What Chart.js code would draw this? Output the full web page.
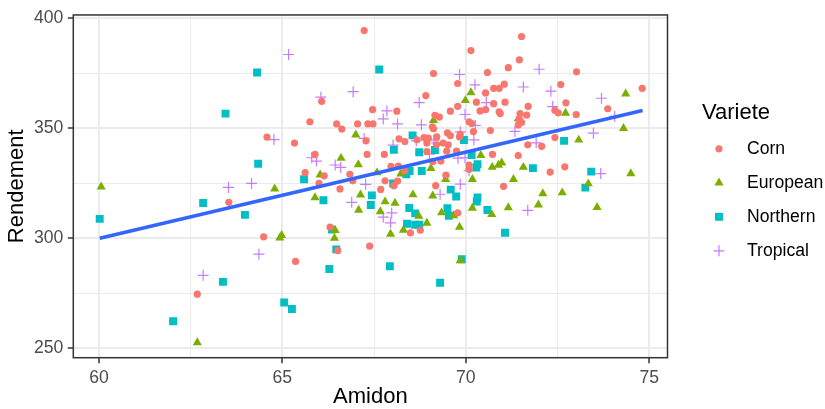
<!DOCTYPE html>
<html lang="en">
<head>
  <meta charset="UTF-8">
  <title>Rendement vs Amidon</title>
  <script src="https://cdn.jsdelivr.net/npm/chart.js"></script>
  <style>
    html, body { margin: 0; padding: 0; background: #fff; }
    #wrap { width: 825px; height: 409px; }
  </style>
</head>
<body>
  <div id="wrap"><canvas id="chart" width="825" height="409"></canvas></div>

  <script>
    // data
    const varietes = ['Corn', 'European', 'Northern', 'Tropical'];

    const cornAmidon = [67.23, 71.52, 70.14, 71.46, 71.16, 73.02, 70.59, 69.12, 69.78, 70.76, 70.91, 71.05, 72.59, 74.81,
      70.54, 68.91, 66.07, 70.29, 70.76, 71.07, 72.73, 71.70, 69.78, 73.87, 67.46, 68.12, 69.58, 70.39, 70.54, 70.91,
      70.94, 71.48, 71.66, 72.43, 72.52, 73.01, 69.16, 69.28, 71.46, 70.09, 70.16, 71.52, 71.43, 65.75, 66.48, 66.62,
      67.05, 67.33, 67.47, 69.09, 69.12, 70.67, 70.21, 69.50, 69.85, 69.83, 69.21, 69.58, 72.43, 64.58, 65.33, 67.28,
      68.18, 68.34, 68.67, 68.86, 68.98, 68.94, 69.20, 69.38, 69.52, 71.69, 72.07, 69.48, 69.75, 70.73, 71.43, 67.78,
      67.31, 65.89, 68.94, 69.32, 69.10, 70.09, 70.09, 72.70, 68.16, 67.96, 72.30, 68.34, 69.46, 66.84, 66.14, 65.62,
      66.00, 66.92, 67.80, 68.14, 68.04, 66.57, 67.68, 69.18, 71.03, 63.54, 69.78, 66.30, 68.49, 68.76, 64.49, 66.51,
      67.38, 65.36, 62.68];
    const cornRendement = [394.5, 391.8, 385.4, 381.2, 377.6, 375.7, 375.4, 374.9, 370.4, 368.2, 368.2, 370.1, 369.9, 368.2,
      366.1, 364.9, 362.3, 361.9, 361.2, 361.9, 361.6, 360.0, 360.0, 358.9, 358.5, 357.8, 357.8, 357.9, 358.5, 357.5,
      356.7, 356.7, 356.0, 358.2, 357.1, 356.3, 355.9, 355.1, 354.2, 353.0, 352.2, 352.7, 351.5, 353.0, 352.0, 349.7,
      352.0, 352.0, 352.0, 350.7, 349.8, 349.0, 348.5, 347.9, 347.3, 346.1, 346.1, 346.7, 345.8, 346.0, 343.3, 344.3,
      345.2, 344.0, 344.8, 345.8, 345.5, 343.3, 342.5, 343.3, 342.5, 342.5, 341.8, 339.6, 339.6, 338.1, 337.6, 338.1,
      338.1, 338.1, 339.4, 335.1, 334.8, 333.3, 331.4, 332.5, 332.8, 332.7, 330.1, 330.7, 328.7, 329.1, 328.4, 329.8,
      324.9, 326.1, 326.1, 326.0, 323.9, 322.4, 322.2, 323.9, 323.6, 316.3, 311.5, 305.1, 302.4, 303.6, 300.6, 294.3,
      296.4, 289.4, 274.5];

    const europeanAmidon = [60.06, 62.68, 64.79, 64.98, 64.93, 65.89, 66.03, 66.44, 66.42, 66.60, 67.00, 67.07, 67.13, 67.08,
      67.58, 67.80, 68.07, 67.67, 67.95, 68.23, 68.56, 68.72, 68.30, 68.94, 69.05, 69.10, 69.34, 69.67, 69.45, 69.83,
      69.85, 69.99, 70.14, 69.12, 70.18, 70.41, 70.18, 70.71, 70.72, 70.89, 70.98, 71.30, 71.16, 71.43, 71.57, 71.98,
      72.10, 72.63, 72.72, 73.08, 73.34, 73.58, 74.30, 74.36, 74.50];
    const europeanRendement = [323.4, 252.5, 322.5, 301.3, 300.1, 318.5, 328.8, 303.6, 300.0, 336.4, 347.0, 333.5, 319.7, 312.8,
      329.8, 316.6, 316.0, 312.1, 301.9, 329.3, 319.8, 310.0, 303.7, 306.9, 331.8, 319.3, 311.6, 310.3, 326.8, 305.1,
      289.8, 362.7, 366.3, 353.6, 326.8, 337.7, 313.7, 310.8, 332.3, 333.3, 334.3, 326.8, 313.9, 354.3, 332.3, 315.2,
      320.3, 320.7, 356.9, 344.7, 324.8, 314.0, 350.0, 365.7, 329.4];

    const northernAmidon = [60.02, 62.02, 62.84, 63.38, 63.45, 63.98, 64.31, 64.34, 65.05, 65.26, 65.59, 66.12, 66.35, 66.47,
      66.28, 67.64, 67.44, 67.41, 67.93, 68.02, 68.04, 68.55, 68.73, 68.47, 68.38, 68.80, 68.46, 68.62, 68.40, 68.62,
      68.73, 69.16, 69.30, 69.50, 69.54, 69.59, 69.74, 69.89, 69.95, 70.16, 70.32, 70.29, 70.32, 70.30, 70.59, 71.07,
      71.83, 72.68, 73.26, 73.42];
    const northernRendement = [308.8, 262.2, 316.0, 280.1, 356.7, 310.6, 375.4, 333.9, 270.7, 267.8, 326.8, 317.3, 303.9, 294.9,
      286.0, 376.8, 319.5, 315.1, 287.2, 324.9, 340.2, 346.8, 339.1, 330.6, 329.1, 330.6, 313.7, 311.3, 306.6, 306.1,
      306.1, 340.1, 279.7, 313.6, 310.2, 322.1, 319.0, 290.4, 344.7, 337.8, 333.7, 332.2, 318.5, 316.7, 312.8, 302.5,
      331.9, 344.3, 323.0, 330.3];

    const tropicalAmidon = [62.84, 63.53, 64.16, 64.36, 64.77, 65.17, 66.05, 65.80, 65.93, 66.44, 66.59, 66.89, 66.93, 67.23,
      67.27, 67.75, 67.85, 68.14, 68.02, 67.98, 67.75, 67.95, 68.73, 68.79, 68.65, 69.01, 69.13, 69.21, 69.30, 69.83,
      69.85, 69.79, 69.98, 69.98, 69.85, 70.09, 70.25, 70.26, 70.22, 70.56, 71.34, 71.57, 71.69, 71.92, 72.00, 72.32,
      72.37, 73.48, 73.68, 73.70, 74.06];
    const tropicalRendement = [283.1, 323.1, 324.9, 292.7, 344.9, 383.6, 364.2, 336.6, 335.1, 333.3, 332.2, 316.3, 366.7, 345.4,
      324.5, 354.3, 357.9, 352.0, 342.4, 311.5, 309.6, 307.0, 361.7, 351.6, 344.3, 338.3, 344.6, 343.4, 320.0, 374.5,
      348.4, 336.4, 356.3, 336.6, 324.6, 330.7, 369.8, 351.3, 344.7, 361.7, 348.6, 368.8, 312.7, 343.4, 376.9, 366.9,
      359.9, 347.8, 329.4, 363.7, 355.5];

    // fitted line (lm) end points
    const fitAmidon = [60.02, 74.82];
    const fitRendement = [300.0, 358.1];

    const xTicks = [60, 62.5, 65, 67.5, 70, 72.5, 75];
    const yTicks = [250, 275, 300, 325, 350, 375, 400];

    // styling
    const couleurs = ['#F8766D', '#7CAE00', '#00BFC4', '#C77CFF'];
    const formes = ['circle', 'triangle', 'rect', 'cross'];
    const tailles = [3.6, 5.3, 5.6, 5.5];
    const traits = [0, 0, 0, 1.2];
    const FONT = '"Liberation Sans", Arial, sans-serif';

    const amidon = [cornAmidon, europeanAmidon, northernAmidon, tropicalAmidon];
    const rendement = [cornRendement, europeanRendement, northernRendement, tropicalRendement];

    const datasets = [{
      label: 'lm',
      data: fitAmidon.map((x, i) => ({ x, y: fitRendement[i] })),
      showLine: true,
      borderColor: '#3366FF',
      borderWidth: 3.5,
      pointRadius: 0,
      fill: false
    }];
    varietes.forEach((name, k) => {
      datasets.push({
        label: name,
        data: amidon[k].map((x, i) => ({ x, y: rendement[k][i] })),
        pointStyle: formes[k],
        pointRadius: tailles[k],
        pointBackgroundColor: couleurs[k],
        pointBorderColor: couleurs[k],
        pointBorderWidth: traits[k]
      });
    });

    const isMajor = (v, step) => Math.abs(v / step - Math.round(v / step)) < 1e-6;

    const panelBorder = {
      id: 'panelBorder',
      afterDraw(chart) {
        const { ctx, chartArea: a } = chart;
        ctx.save();
        ctx.strokeStyle = '#333333';
        ctx.lineWidth = 1.5;
        ctx.strokeRect(a.left, a.top, a.right - a.left, a.bottom - a.top);
        ctx.restore();
      }
    };

    const sideLegend = {
      id: 'sideLegend',
      afterDraw(chart) {
        const ctx = chart.ctx;
        ctx.save();
        ctx.fillStyle = '#000';
        ctx.font = '22px ' + FONT;
        ctx.textBaseline = 'alphabetic';
        ctx.textAlign = 'left';
        ctx.fillText('Variete', 702, 119);
        varietes.forEach((name, i) => {
          const y = 148.8 + i * 34;
          ctx.fillStyle = couleurs[i];
          ctx.strokeStyle = couleurs[i];
          ctx.lineWidth = traits[i];
          Chart.helpers.drawPoint(ctx, { pointStyle: formes[i], radius: tailles[i], borderWidth: traits[i], rotation: 0 }, 719, y);
          ctx.fillStyle = '#000';
          ctx.font = '17.6px ' + FONT;
          ctx.textBaseline = 'middle';
          ctx.fillText(name, 747, y);
        });
        ctx.restore();
      }
    };

    new Chart(document.getElementById('chart'), {
      type: 'scatter',
      data: { datasets },
      plugins: [panelBorder, sideLegend],
      options: {
        responsive: false,
        animation: false,
        layout: { padding: { top: 9.2, right: 157.5, left: 0, bottom: 0 } },
        plugins: { legend: { display: false }, tooltip: { enabled: false } },
        scales: {
          x: {
            type: 'linear',
            min: 59.30,
            max: 75.50,
            afterBuildTicks: s => { s.ticks = xTicks.map(v => ({ value: v })); },
            afterFit: s => { s.height = 51.3; },
            border: { display: false },
            grid: {
              color: '#EBEBEB',
              lineWidth: c => (c.tick && isMajor(c.tick.value, 5)) ? 2 : 1,
              tickColor: c => (c.tick && isMajor(c.tick.value, 5)) ? '#333333' : 'rgba(0,0,0,0)',
              tickLength: 5.5,
              tickWidth: 1.5
            },
            ticks: {
              autoSkip: false,
              maxRotation: 0,
              padding: 4.4,
              color: '#4D4D4D',
              font: { family: FONT, size: 17.6 },
              callback: v => isMajor(v, 5) ? String(v) : ''
            },
            title: {
              display: true,
              text: 'Amidon',
              color: '#000',
              font: { family: FONT, size: 22, lineHeight: 1 },
              padding: { top: 0, bottom: 1 }
            }
          },
          y: {
            type: 'linear',
            min: 245.6,
            max: 401.6,
            afterBuildTicks: s => { s.ticks = yTicks.map(v => ({ value: v })); },
            afterFit: s => { s.width = 73.3; },
            border: { display: false },
            grid: {
              color: '#EBEBEB',
              lineWidth: c => (c.tick && isMajor(c.tick.value, 50)) ? 2 : 1,
              tickColor: c => (c.tick && isMajor(c.tick.value, 50)) ? '#333333' : 'rgba(0,0,0,0)',
              tickLength: 5.5,
              tickWidth: 1.5
            },
            ticks: {
              autoSkip: false,
              padding: 4.4,
              color: '#4D4D4D',
              font: { family: FONT, size: 17.6 },
              callback: v => isMajor(v, 50) ? String(v) : ''
            },
            title: {
              display: true,
              text: 'Rendement',
              color: '#000',
              font: { family: FONT, size: 22, lineHeight: 1 },
              padding: { top: 6, bottom: 0 }
            }
          }
        }
      }
    });
  </script>
</body>
</html>
